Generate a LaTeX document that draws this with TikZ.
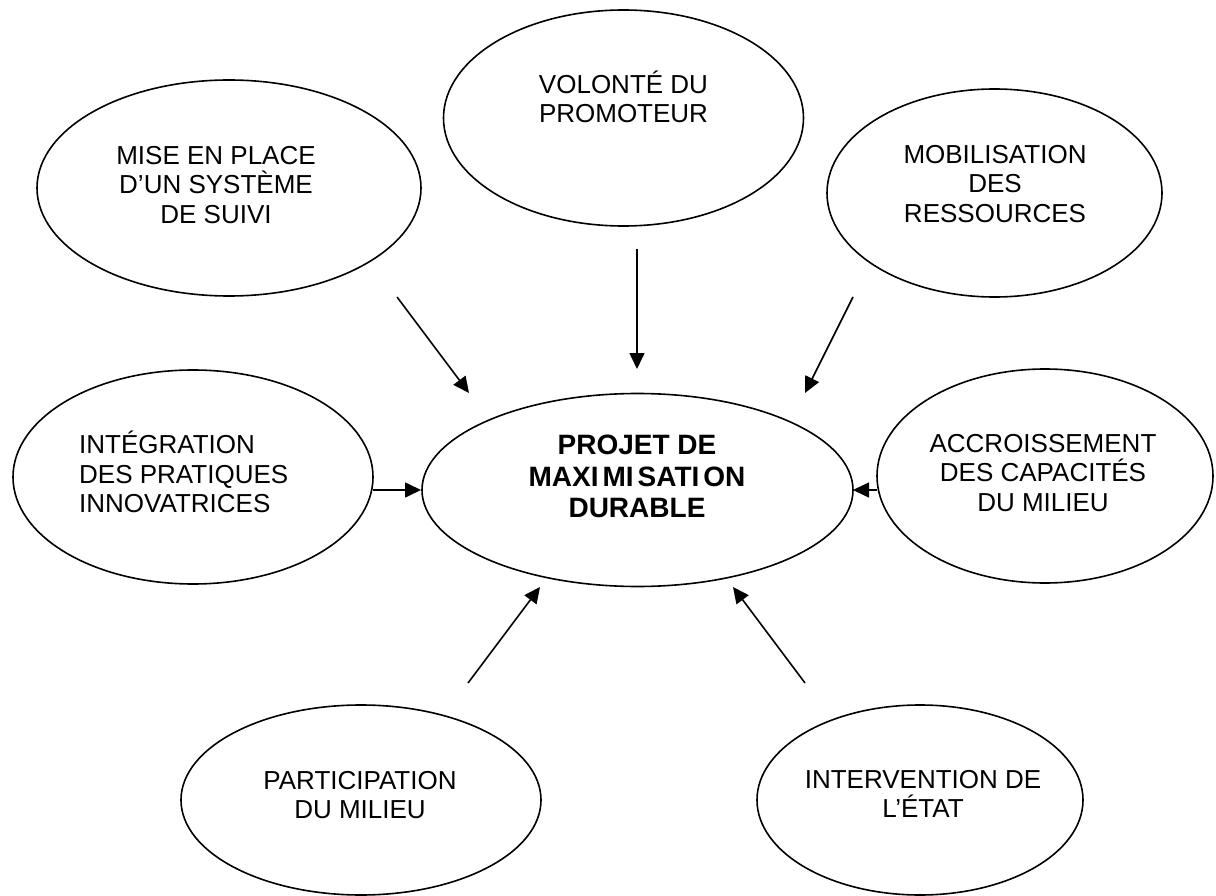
\documentclass[tikz,border=0pt]{standalone}
\usepackage{fontspec}
\setmainfont{Liberation Sans}
\usetikzlibrary{shapes.geometric,arrows.meta}
\begin{document}
\begin{tikzpicture}[x=1pt,y=-1pt,
  oval/.style={draw=black,line width=1.6pt,ellipse,inner sep=0pt},
  lbl/.style={inner sep=0pt,align=center,font=\fontsize{26}{29.5}\selectfont},
  mainlbl/.style={inner sep=0pt,align=center,font=\fontsize{28}{31.5}\selectfont\bfseries},
  arr/.style={line width=1.6pt,-{Triangle[length=16pt,width=15pt]}}]
\useasboundingbox (0,0) rectangle (1216,896);
% ellipses
\node[oval,minimum width=384pt,minimum height=216pt] (tl) at (229,188) {};
\node[oval,minimum width=360pt,minimum height=216pt] (tm) at (623.5,118) {};
\node[oval,minimum width=335pt,minimum height=208pt] (tr) at (994.5,193) {};
\node[oval,minimum width=360pt,minimum height=214pt] (lf) at (193,477) {};
\node[oval,minimum width=336pt,minimum height=214pt] (rt) at (1045,476) {};
\node[oval,minimum width=431pt,minimum height=193pt] (ct) at (637.5,490) {};
\node[oval,minimum width=360pt,minimum height=190pt] (bl) at (361,800) {};
\node[oval,minimum width=326pt,minimum height=190pt] (br) at (920,800) {};
% texts
\node[lbl] (tlt) at (216,185) {MISE EN PLACE\\D’UN SYSTÈME\\DE SUIVI};
\node[lbl] (tmt) at (623.5,97) {VOLONTÉ DU\\PROMOTEUR};
\node[lbl] (trt) at (995,184) {MOBILISATION\\DES\\RESSOURCES};
\node[lbl,align=left,anchor=west] (lft) at (79,472) {INTÉGRATION\\DES PRATIQUES\\INNOVATRICES};
\node[lbl] (rtt) at (1043,473) {ACCROISSEMENT\\DES CAPACITÉS\\DU MILIEU};
\node[mainlbl] (ctt) at (637,476.5) {PROJET DE\\MAXI\kern4pt MI\kern4pt SATI\kern4pt ON\\DURABLE};
\node[lbl] (blt) at (360,795) {PARTICIPATION\\DU MILIEU};
\node[lbl] (brt) at (923,794) {INTERVENTION DE\\L’ÉTAT};
% arrow end points
\coordinate (a1s) at (397,297); \coordinate (a1e) at (469,393);
\coordinate (a2s) at (637,249); \coordinate (a2e) at (637,369);
\coordinate (a3s) at (853,297); \coordinate (a3e) at (805,393);
\coordinate (a4s) at (373,490); \coordinate (a4e) at (421,490);
\coordinate (a5s) at (877,490); \coordinate (a5e) at (853,490);
\coordinate (a6s) at (468,683); \coordinate (a6e) at (540,587);
\coordinate (a7s) at (805,683); \coordinate (a7e) at (733,587);
\draw[arr] (a1s) -- (a1e);
\draw[arr] (a2s) -- (a2e);
\draw[arr] (a3s) -- (a3e);
\draw[arr] (a4s) -- (a4e);
\draw[arr] (a5s) -- (a5e);
\draw[arr] (a6s) -- (a6e);
\draw[arr] (a7s) -- (a7e);
\end{tikzpicture}
\end{document}
